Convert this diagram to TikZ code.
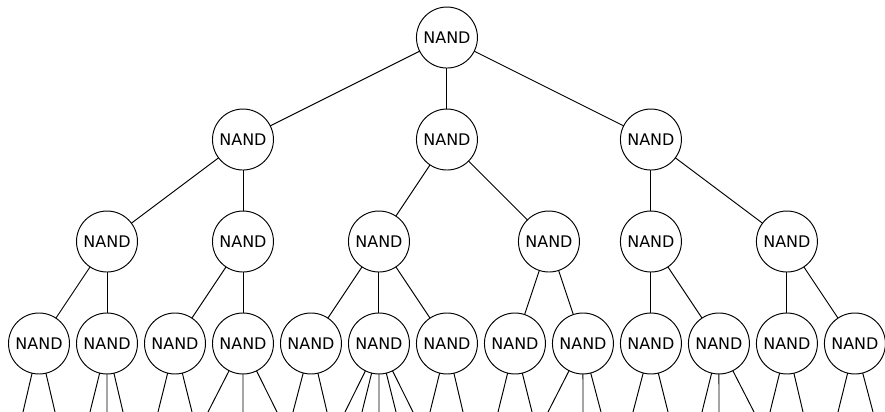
\documentclass[tikz,border=0pt]{standalone}
\usepackage{fontspec}
\setmainfont{DejaVu Sans}
\usetikzlibrary{positioning}

\begin{document}
\begin{tikzpicture}[x=0.022cm, y=-0.022cm]
		\tikzstyle{gate}=[circle, minimum size = 1.342cm, inner sep=0pt, outer sep=0pt, line width=0.6pt, draw=black, node distance = 0.902cm and 0.154cm]
		\tikzstyle{wire}=[line width=0.6pt]
		\useasboundingbox (0,0) rectangle (885,412);
		% bottom row
		\node[gate] (l0) at (39,343.5) {NAND};
		\node[gate] (l1) [right=of l0] {NAND};
		\node[gate] (l2) [right=of l1] {NAND};
		\node[gate] (l3) [right=of l2] {NAND};
		\node[gate] (l4) [right=of l3] {NAND};
		\node[gate] (l5) [right=of l4] {NAND};
		\node[gate] (l6) [right=of l5] {NAND};
		\node[gate] (l7) [right=of l6] {NAND};
		\node[gate] (l8) [right=of l7] {NAND};
		\node[gate] (l9) [right=of l8] {NAND};
		\node[gate] (l10) [right=of l9] {NAND};
		\node[gate] (l11) [right=of l10] {NAND};
		\node[gate] (l12) [right=of l11] {NAND};
		% middle rows
		\node[gate] (m0) [above=of l1] {NAND};
		\node[gate] (m1) [above=of l3] {NAND};
		\node[gate] (m2) [above=of l5] {NAND};
		\node[gate] (m3) [above=of l8, xshift=-0.748cm] {NAND};
		\node[gate] (m4) [above=of l9] {NAND};
		\node[gate] (m5) [above=of l11] {NAND};
		\node[gate] (t0) [above=of m1] {NAND};
		\node[gate] (t1) [above=of m2, xshift=1.496cm] {NAND};
		\node[gate] (t2) [above=of m4] {NAND};
		\node[gate] (root) [above=of t1] {NAND};

		\path[wire] (root) edge (t0)
			(root) edge (t1)
			(root) edge (t2)
			(t0) edge (m0)
			(t0) edge (m1)
			(t1) edge (m2)
			(t1) edge (m3)
			(t2) edge (m4)
			(t2) edge (m5)
			(m0) edge (l0)
			(m0) edge (l1)
			(m1) edge (l2)
			(m1) edge (l3)
			(m2) edge (l4)
			(m2) edge (l5)
			(m2) edge (l6)
			(m3) edge (l7)
			(m3) edge (l8)
			(m4) edge (l9)
			(m4) edge (l10)
			(m5) edge (l11)
			(m5) edge (l12);
		% wires leaving the picture
		\foreach \g/\ends in {l0/{23,55}, l1/{90,107,123}, l2/{158,192}, l3/{208,243,277},
			l4/{293,327}, l5/{345,362,379,396,413}, l6/{430,463}, l7/{498,532},
			l8/{548,583,601}, l9/{633,668}, l10/{702,719,754}, l11/{770,803}, l12/{838,873}}
			\foreach \x in \ends {
				\coordinate (\g-out\x) at (\x,412);
				\draw[wire] (\g) -- (\g-out\x);
			}
\end{tikzpicture}
\end{document}
